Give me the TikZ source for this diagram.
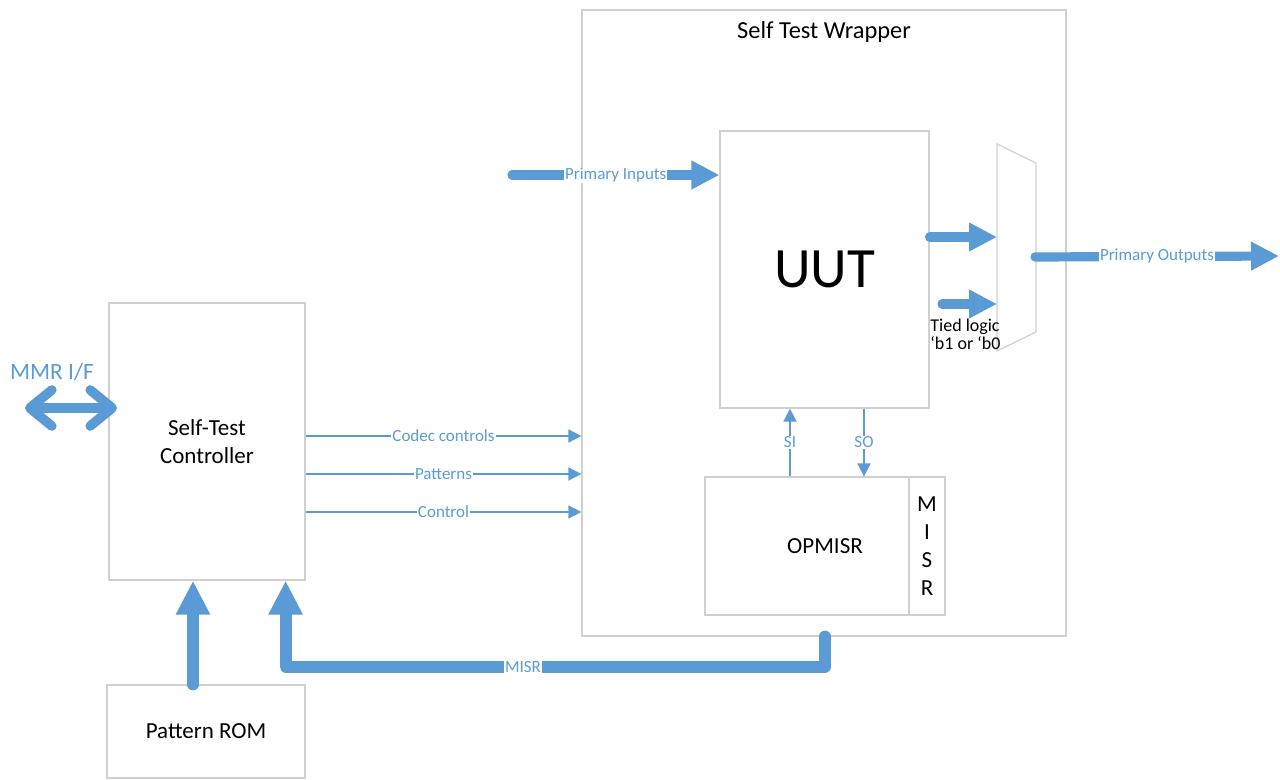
\documentclass[tikz,border=0pt]{standalone}
\usepackage{fontspec}
\setmainfont{Carlito}
\usetikzlibrary{arrows.meta,positioning,calc}
\definecolor{arrblue}{RGB}{91,155,213}
\definecolor{boxgray}{RGB}{208,208,208}
\tikzset{
  blk/.style={draw=boxgray,line width=0.6pt,fill=white,inner sep=0pt},
  fat/.style={arrblue,line width=4.6pt,line cap=round,line join=round,-{Triangle[length=14pt,width=13.5pt]}},
  fatter/.style={fat,line width=6pt,-{Triangle[length=17pt,width=16pt]}},
  thinarr/.style={arrblue,line width=0.8pt,-{Triangle[length=6.5pt,width=6.5pt]}},
  mmrarr/.style={arrblue,line width=4.8pt,line cap=round,{Straight Barb[round,length=11pt,width=18pt]}-{Straight Barb[round,length=11pt,width=18pt]}},
  lbl/.style={fill=white,inner sep=0.5pt,text=arrblue,font=\fontsize{8.5}{10}\selectfont},
  big/.style={font=\fontsize{11.5}{14}\selectfont},
}
\begin{document}
\begin{tikzpicture}[x=0.5pt,y=-0.5pt]
\useasboundingbox (0,0) rectangle (1280,780);

\node[blk,minimum width=242pt,minimum height=313pt] (wrap) at (824,323) {};
\node[font=\fontsize{12.2}{14}\selectfont,below=2.5pt of wrap.north] (wtitle) {Self Test Wrapper};

\node[blk,minimum width=104.5pt,minimum height=138.5pt,font=\fontsize{28.5}{32}\selectfont] (uut) at (824.5,269.5) {UUT};

\node[blk,big,minimum width=120pt,minimum height=69pt] (opm) at (825,546) {OPMISR};
\node[blk,big,anchor=east,minimum width=18pt,minimum height=69pt,align=center] (misr) at (opm.east) {M\\I\\S\\R};

\node[blk,big,minimum width=98pt,minimum height=138.5pt,align=center] (ctrl) at (207,441.5) {Self-Test\\Controller};
\node[blk,big,minimum width=99pt,minimum height=46.5pt] (rom) at (206,731.5) {Pattern ROM};

\draw[draw=boxgray,line width=0.6pt,fill=white] (997,144) -- (1036,163) -- (1036,332) -- (997,351) -- cycle;
\coordinate (mi1) at (997,237);
\coordinate (mi2) at (997,304);
\coordinate (mo) at (1035,257);
\coordinate (tie) at (942,304);
\coordinate (pin) at (512,175);
\coordinate (pout) at (1279,256);
\coordinate (mmr) at (25,408);
\coordinate (mmrend) at (117,408);

\node[text=arrblue,font=\fontsize{11.7}{14}\selectfont] (mmrlbl) at (52,372) {MMR I/F};
\node[anchor=west,align=left,inner sep=0pt,font=\fontsize{9}{9}\selectfont] (tied) at (930,334) {Tied logic\\‘b1 or ‘b0};

\draw[mmrarr] (mmr) -- (mmrend);
\draw[fat] (pin) -- node[lbl]{Primary Inputs} (pin -| uut.west);
\draw[fat] (uut.east |- mi1) -- (mi1);
\draw[fat] (tie) -- (mi2);
\draw[fat] (mo) -- node[lbl]{Primary Outputs} (pout);

\draw[thinarr] (ctrl.east |- 0,436) -- node[lbl]{Codec controls} (wrap.west |- 0,436);
\draw[thinarr] (ctrl.east |- 0,474) -- node[lbl]{Patterns} (wrap.west |- 0,474);
\draw[thinarr] (ctrl.east |- 0,512) -- node[lbl]{Control} (wrap.west |- 0,512);

\coordinate (si) at ([xshift=-17.5pt]opm.north);
\coordinate (so) at ([xshift=19.75pt]uut.south);
\draw[thinarr] (si) -- node[lbl]{SI} (si |- uut.south);
\draw[thinarr] (so) -- node[lbl]{SO} (so |- opm.north);

\coordinate (mf) at (opm.south |- wrap.south);
\coordinate (mt) at ([xshift=-10pt]ctrl.south east);
\draw[fatter] (mf) -- ++(0,30) -| node[lbl,pos=0.28]{MISR} (mt);

\coordinate (rf) at ([xshift=-6.5pt]rom.north);
\draw[fatter] (rf) -- (rf |- ctrl.south);
\end{tikzpicture}
\end{document}
